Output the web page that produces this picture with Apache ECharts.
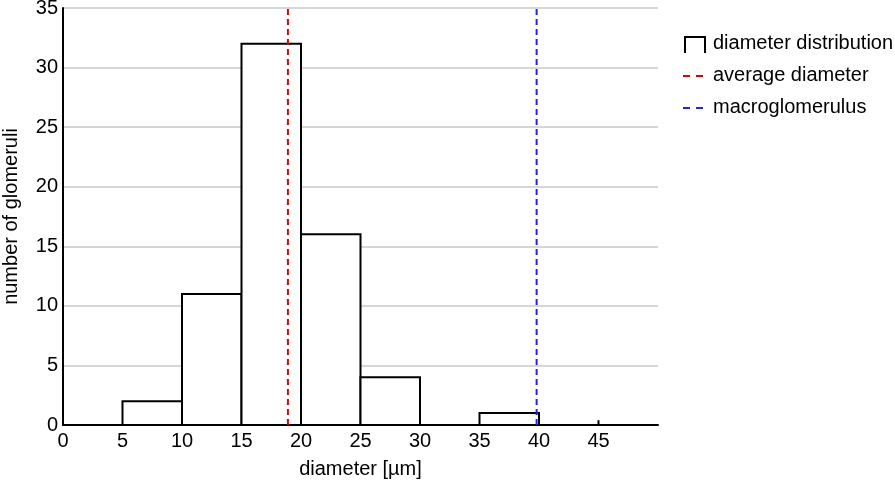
<!DOCTYPE html>
<html><head><meta charset="utf-8">
<script src="https://cdn.jsdelivr.net/npm/echarts@6/dist/echarts.min.js"></script>
<style>html,body{margin:0;padding:0;background:#fff}#c{width:895px;height:483px}</style>
</head><body><div id="c"></div>
<script>
const binStarts = [5, 10, 15, 20, 25, 35];
const counts = [2, 11, 32, 16, 4, 1];
const binWidth = 5;
const spikes = [[45, 0.4]];
const averageDiameter = 18.9;
const macroDiameter = 39.8;
const xTicks = [0, 5, 10, 15, 20, 25, 30, 35, 40, 45];
const yMax = 35;

const FONT = 'Liberation Sans, Arial, sans-serif';
const FS = 20;
const chart = echarts.init(document.getElementById('c'));
const histData = binStarts.map((s, i) => [s, counts[i]]);

chart.setOption({
  animation: false,
  grid: {left: 63, right: 237, top: 8, bottom: 58, containLabel: false, outerBoundsMode: 'none'},
  xAxis: {
    type: 'value', min: 0, max: 50, interval: 5,
    name: 'diameter [µm]', nameLocation: 'middle', nameGap: 34,
    nameTextStyle: {fontSize: FS, color: '#000', fontFamily: FONT},
    axisLine: {lineStyle: {color: '#000', width: 2}},
    axisTick: {show: false},
    splitLine: {show: false},
    axisLabel: {fontSize: FS, color: '#000', fontFamily: FONT, margin: 6,
      formatter: v => xTicks.indexOf(v) >= 0 ? String(v) : ''}
  },
  yAxis: {
    type: 'value', min: 0, max: yMax, interval: 5,
    name: 'number of glomeruli', nameLocation: 'middle', nameGap: 42,
    nameTextStyle: {fontSize: FS, color: '#000', fontFamily: FONT},
    axisLine: {show: true, lineStyle: {color: '#000', width: 2}},
    axisTick: {show: false},
    splitLine: {show: true, lineStyle: {color: '#c8c8c8', width: 1.5}},
    axisLabel: {fontSize: FS, color: '#000', fontFamily: FONT, margin: 5}
  },
  graphic: [
    {type: 'polyline', shape: {points: [[685, 53], [685, 37], [705, 37], [705, 53]]},
     style: {stroke: '#000', lineWidth: 2, fill: null}},
    {type: 'text', left: 713, top: 33, style: {text: 'diameter distribution', fontSize: FS, fill: '#000', fontFamily: FONT}},
    {type: 'line', shape: {x1: 683, y1: 76, x2: 690, y2: 76}, style: {stroke: '#e00000', lineWidth: 2}},
    {type: 'line', shape: {x1: 696, y1: 76, x2: 703, y2: 76}, style: {stroke: '#e00000', lineWidth: 2}},
    {type: 'text', left: 713, top: 65, style: {text: 'average diameter', fontSize: FS, fill: '#000', fontFamily: FONT}},
    {type: 'line', shape: {x1: 683, y1: 108, x2: 690, y2: 108}, style: {stroke: '#2020ff', lineWidth: 2}},
    {type: 'line', shape: {x1: 696, y1: 108, x2: 703, y2: 108}, style: {stroke: '#2020ff', lineWidth: 2}},
    {type: 'text', left: 713, top: 97, style: {text: 'macroglomerulus', fontSize: FS, fill: '#000', fontFamily: FONT}}
  ],
  series: [
    {
      name: 'diameter distribution', type: 'custom', data: histData,
      encode: {x: 0, y: 1}, z: 3,
      renderItem: (params, api) => {
        const p0 = api.coord([api.value(0), 0]);
        const p1 = api.coord([api.value(0) + binWidth, api.value(1)]);
        return {type: 'rect', shape: {x: p0[0], y: p1[1], width: p1[0] - p0[0], height: p0[1] - p1[1]},
          style: {fill: '#fff', stroke: '#000', lineWidth: 2}};
      }
    },
    {
      name: 'spike', type: 'custom', data: spikes, encode: {x: 0, y: 1}, z: 3,
      renderItem: (params, api) => {
        const a = api.coord([api.value(0), 0]);
        const b = api.coord([api.value(0), api.value(1)]);
        return {type: 'line', shape: {x1: a[0], y1: a[1], x2: b[0], y2: b[1]}, style: {stroke: '#000', lineWidth: 2}};
      }
    },
    {
      name: 'average diameter', type: 'line', data: [[averageDiameter, 0], [averageDiameter, yMax]],
      symbol: 'none', z: 5, lineStyle: {color: '#e00000', width: 2, type: [6, 4]}
    },
    {
      name: 'macroglomerulus', type: 'line', data: [[macroDiameter, 0], [macroDiameter, yMax]],
      symbol: 'none', z: 5, lineStyle: {color: '#2020ff', width: 2, type: [6, 4]}
    }
  ]
});
</script></body></html>
